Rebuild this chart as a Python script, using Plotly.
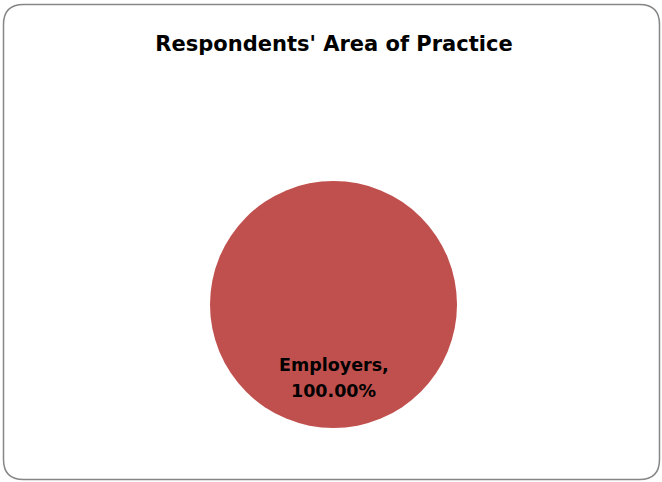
import plotly.graph_objects as go

W, H = 662, 482
labels = ["Employers"]
values = [100.0]
title = "Respondents' Area of Practice"

FONT = "DejaVu Sans"

def px(x, y):
    return f"{x / W:.5f},{1 - y / H:.5f}"

# rounded border path
x0, y0, x1, y1, r = 3.5, 4.5, 659.5, 479.5, 20
path = (f"M {px(x0 + r, y0)} L {px(x1 - r, y0)} Q {px(x1, y0)} {px(x1, y0 + r)} "
        f"L {px(x1, y1 - r)} Q {px(x1, y1)} {px(x1 - r, y1)} "
        f"L {px(x0 + r, y1)} Q {px(x0, y1)} {px(x0, y1 - r)} "
        f"L {px(x0, y0 + r)} Q {px(x0, y0)} {px(x0 + r, y0)} Z")

fig = go.Figure(go.Pie(
    labels=labels, values=values,
    marker=dict(colors=["#C0504D"], line=dict(width=0)),
    textinfo="none", hoverinfo="label+percent", sort=False,
    domain=dict(x=[210 / W, 457 / W], y=[1 - 428 / H, 1 - 181 / H]),
    showlegend=False,
))

total = sum(values)
for l, v in zip(labels, values):
    lines = [f"{l},", f"{v / total * 100:.2f}%"]
    for i, t in enumerate(lines):
        fig.add_annotation(text=f"<b>{t}</b>", x=333.5 / W, y=1 - (364.5 + 26.5 * i) / H,
                           xref="paper", yref="paper", yanchor="middle",
                           showarrow=False, font=dict(family=FONT, size=17.5, color="#000000"))

fig.add_shape(type="path", path=path, xref="paper", yref="paper",
              line=dict(color="#868686", width=1.5), fillcolor="rgba(0,0,0,0)")

fig.update_layout(
    width=W, height=H,
    margin=dict(l=0, r=0, t=0, b=0),
    paper_bgcolor="white", plot_bgcolor="white",
    title=dict(text=f"<b>{title}</b>", x=334 / W, xanchor="center", y=1 - 44 / H, yanchor="middle",
               font=dict(family=FONT, size=21, color="black")),
)

fig.write_html("out.html", post_script="document.body.style.margin='0';",
               config={"displayModeBar": False})
